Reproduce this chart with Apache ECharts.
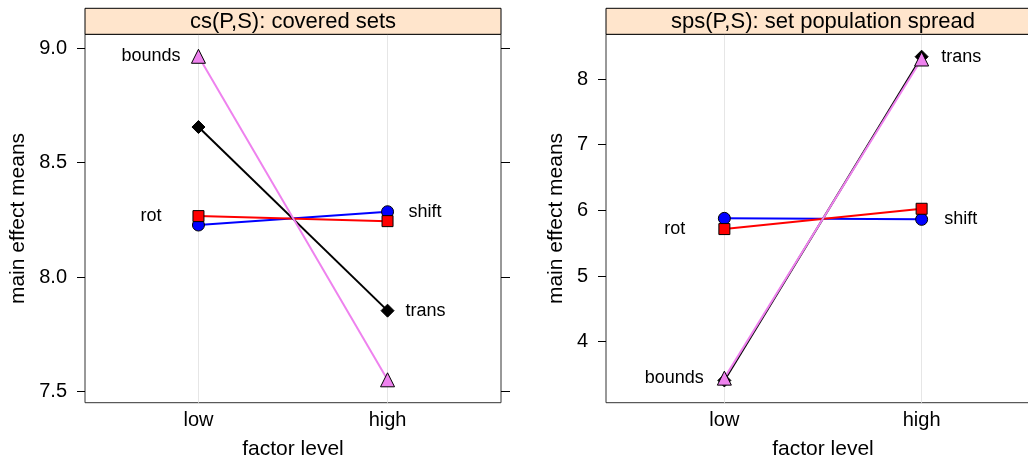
<!DOCTYPE html>
<html>
<head>
<meta charset="utf-8">
<script src="https://cdn.jsdelivr.net/npm/echarts@6/dist/echarts.min.js"></script>
<style>
html,body{margin:0;padding:0;background:#fff;}
#c{width:1028px;height:462px;}
</style>
</head>
<body>
<div id="c"></div>
<script>
// ---- data ----
const categories = ['low', 'high'];
const seriesNames = ['shift', 'rot', 'trans', 'bounds'];
const panelTitles = ['cs(P,S): covered sets', 'sps(P,S): set population spread'];

const csShift  = [8.228, 8.286];
const csRot    = [8.267, 8.245];
const csTrans  = [8.656, 7.854];
const csBounds = [8.965, 7.552];

const spsShift  = [5.878, 5.863];
const spsRot    = [5.715, 6.024];
const spsTrans  = [3.41, 8.34];
const spsBounds = [3.445, 8.305];

const csTicks  = [7.5, 8.0, 8.5, 9.0];
const spsTicks = [4, 5, 6, 7, 8];

// ---- styling / layout ----
const FONT = 'Liberation Sans, Arial, Helvetica, sans-serif';
const styles = {
  shift:  {color: '#0000ff', symbol: 'circle',   size: 12},
  rot:    {color: '#ff0000', symbol: 'rect',     size: 11},
  trans:  {color: '#000000', symbol: 'diamond',  size: 13},
  bounds: {color: '#ee82ee', symbol: 'triangle', size: 14}
};
// [point index, side, distance beyond the symbol]
const labelSpecs = [
  {shift: [1, 'right', 14.5], rot: [0, 'left', 31], trans: [1, 'right', 11], bounds: [0, 'left', 10.5]},
  {shift: [1, 'right', 16], rot: [0, 'left', 33], trans: [1, 'right', 12.5], bounds: [0, 'left', 13]}
];
const panels = [
  {values: {shift: csShift, rot: csRot, trans: csTrans, bounds: csBounds}, ticks: csTicks,
   min: 7.452, max: 9.061, dec: 1, grid: {left: 85, top: 34.3, width: 416, height: 368.4}, nameGap: 56},
  {values: {shift: spsShift, rot: spsRot, trans: spsTrans, bounds: spsBounds}, ticks: spsTicks,
   min: 3.071, max: 8.681, dec: 0, grid: {left: 606, top: 34.3, width: 434, height: 368.4}, nameGap: 39}
];

const grids = [], xAxes = [], yAxes = [], series = [], graphics = [];
panels.forEach((p, pi) => {
  grids.push(Object.assign({show: true, borderColor: '#333', borderWidth: 1, backgroundColor: 'transparent',
    containLabel: false, outerBoundsMode: 'none'}, p.grid));
  xAxes.push({
    type: 'value', gridIndex: pi, min: -0.6, max: 1.6, position: 'bottom',
    axisLine: {show: false, onZero: false}, axisTick: {show: false}, splitLine: {show: false},
    axisLabel: {customValues: [0, 1], formatter: v => categories[Math.round(v)],
      color: '#000', fontFamily: FONT, fontSize: 20, margin: 8},
    name: 'factor level', nameLocation: 'middle', nameGap: 36,
    nameTextStyle: {color: '#000', fontFamily: FONT, fontSize: 21}
  });
  const yi = yAxes.length;
  yAxes.push({
    type: 'value', gridIndex: pi, min: p.min, max: p.max, position: 'left',
    axisLine: {show: false, onZero: false}, splitLine: {show: false},
    axisTick: {show: true, inside: false, length: 8, customValues: p.ticks, lineStyle: {color: '#000'}},
    axisLabel: {customValues: p.ticks, formatter: v => Number(v).toFixed(p.dec),
      color: '#000', fontFamily: FONT, fontSize: 20, margin: 18},
    name: 'main effect means', nameLocation: 'middle', nameGap: p.nameGap,
    nameTextStyle: {color: '#000', fontFamily: FONT, fontSize: 21}
  });
  yAxes.push({
    type: 'value', gridIndex: pi, min: p.min, max: p.max, position: 'right',
    axisLine: {show: false, onZero: false}, splitLine: {show: false},
    axisTick: {show: true, inside: false, length: 9, customValues: p.ticks, lineStyle: {color: '#000'}},
    axisLabel: {show: false}
  });
  // vertical reference lines at the factor levels
  series.push({
    type: 'line', xAxisIndex: pi, yAxisIndex: yi, data: [], z: 1, silent: true,
    markLine: {silent: true, z: 1, symbol: ['none', 'none'], label: {show: false},
      lineStyle: {color: '#e6e6e6', type: 'solid', width: 1},
      emphasis: {disabled: true},
      data: [{xAxis: 0}, {xAxis: 1}]}
  });
  seriesNames.forEach(name => {
    const st = styles[name];
    const spec = labelSpecs[pi][name];
    const vals = p.values[name];
    const data = vals.map((v, i) => {
      const item = {value: [i, v]};
      if (i === spec[0]) {
        item.label = {show: true, formatter: name, position: spec[1], distance: spec[2],
          color: '#000', fontFamily: FONT, fontSize: 18};
      }
      return item;
    });
    series.push({
      type: 'line', name: name, xAxisIndex: pi, yAxisIndex: yi, z: 3,
      data: data, symbol: st.symbol, symbolSize: st.size, showAllSymbol: true,
      lineStyle: {color: st.color, width: 2},
      itemStyle: {color: st.color, borderColor: '#000', borderWidth: 1},
      label: {show: false},
      emphasis: {disabled: true}
    });
  });
  // strip
  const g = p.grid;
  graphics.push({
    type: 'rect', shape: {x: g.left, y: 8.3, width: g.width, height: g.top - 8.3},
    style: {fill: '#ffe5cc', stroke: '#000', lineWidth: 1}, z: 10
  });
  graphics.push({
    type: 'text', x: g.left + g.width / 2, y: (8.3 + g.top) / 2 + 0.5,
    style: {text: panelTitles[pi], fill: '#000', font: '22px ' + FONT, align: 'center', verticalAlign: 'middle'},
    z: 11
  });
});

const chart = echarts.init(document.getElementById('c'), null, {renderer: 'canvas'});
chart.setOption({
  animation: false,
  backgroundColor: '#fff',
  grid: grids, xAxis: xAxes, yAxis: yAxes, series: series, graphic: graphics
});
</script>
</body>
</html>
